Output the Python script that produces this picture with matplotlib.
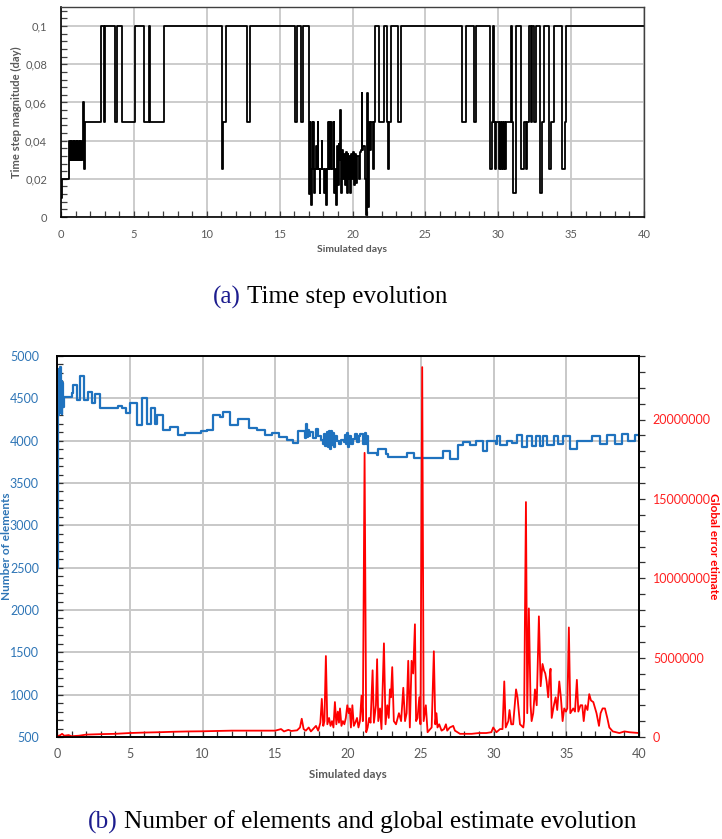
import matplotlib
matplotlib.use('Agg')
import matplotlib.pyplot as plt
from matplotlib.ticker import MultipleLocator, FuncFormatter

# ---------------- data ----------------
# (a) time step magnitude: change points (day, value)
ts_days = [0.0, 0.05, 0.55, 0.62, 0.68, 0.72, 0.78, 0.82, 0.88, 0.92, 0.98, 1.02, 1.08, 1.12,
           1.18, 1.22, 1.28, 1.32, 1.38, 1.42, 1.48, 1.52, 1.58, 1.64,
           2.72, 2.95, 3.03, 3.72, 3.82, 4.2, 5.05, 5.7, 6.02, 6.12, 7.05,
           11.05, 11.12, 11.3, 12.75, 12.98, 16.05, 16.2, 16.5, 16.6,
           17.0, 17.06, 17.1, 17.14, 17.2, 17.26, 17.32, 17.36, 17.42, 17.5, 17.55, 17.62, 17.66,
           17.75, 17.8, 17.88, 17.93, 18.02, 18.08, 18.15, 18.22, 18.3, 18.36, 18.4, 18.48, 18.55,
           18.62, 18.7, 18.75, 18.8, 18.86, 18.92, 18.98, 19.04, 19.1, 19.14, 19.18, 19.24, 19.3,
           19.36, 19.42, 19.48, 19.54, 19.6, 19.66, 19.72, 19.78, 19.84, 19.9, 19.96, 20.02, 20.1,
           20.18, 20.26, 20.34, 20.42, 20.5, 20.58, 20.62, 20.68, 20.75, 20.85, 20.95, 21.0, 21.06,
           21.12, 21.2, 21.28, 21.4, 21.46, 21.55,
           21.85, 22.18, 22.34, 22.42, 22.48, 22.64, 23.15, 23.33,
           27.53, 27.78, 28.36, 28.5, 29.45, 29.56, 29.62, 29.72, 29.78, 29.85, 30.05, 30.12, 30.2,
           30.28, 30.35, 30.42, 30.48, 30.55, 30.86, 30.97, 31.04, 31.22, 31.55, 31.8, 31.87, 31.95,
           32.12, 32.22, 32.3, 32.42, 32.56, 32.88, 33.02, 33.12, 33.45, 33.6, 33.8, 34.38, 34.58,
           34.66, 40.0]
ts_vals = [0.01, 0.02, 0.04, 0.03, 0.04, 0.03, 0.04, 0.03, 0.04, 0.03, 0.04, 0.03, 0.04, 0.03,
           0.04, 0.03, 0.04, 0.03, 0.04, 0.03, 0.04, 0.06, 0.025, 0.05,
           0.1, 0.05, 0.1, 0.05, 0.1, 0.05, 0.1, 0.05, 0.1, 0.05, 0.1,
           0.025, 0.05, 0.1, 0.05, 0.1, 0.05, 0.1, 0.05, 0.1,
           0.012, 0.05, 0.025, 0.0065, 0.05, 0.025, 0.05, 0.0125, 0.025, 0.037, 0.025, 0.05, 0.025,
           0.0125, 0.025, 0.04, 0.025, 0.0125, 0.025, 0.0065, 0.025, 0.05, 0.025, 0.05, 0.025, 0.05,
           0.025, 0.05, 0.0125, 0.025, 0.0065, 0.037, 0.017, 0.038, 0.03, 0.056, 0.025, 0.0125, 0.035,
           0.02, 0.033, 0.017, 0.034, 0.0125, 0.033, 0.02, 0.032, 0.0125, 0.033, 0.02, 0.034, 0.017,
           0.033, 0.018, 0.032, 0.02, 0.034, 0.035, 0.065, 0.035, 0.037, 0.02, 0.001, 0.065, 0.005,
           0.05, 0.035, 0.05, 0.025, 0.05, 0.1,
           0.05, 0.1, 0.05, 0.025, 0.05, 0.1, 0.05, 0.1,
           0.05, 0.1, 0.05, 0.1, 0.025, 0.05, 0.1, 0.05, 0.025, 0.05, 0.025, 0.05, 0.025,
           0.05, 0.025, 0.05, 0.025, 0.05, 0.1, 0.05, 0.0125, 0.1, 0.025, 0.05, 0.025, 0.05,
           0.1, 0.05, 0.1, 0.05, 0.1, 0.0125, 0.05, 0.1, 0.025, 0.05, 0.1, 0.025, 0.05,
           0.1, 0.1]

# (b) number of elements: change points (day, count)
elem_days = [0.0, 0.03, 0.06, 0.09, 0.12, 0.16, 0.2, 0.25, 0.29, 0.33, 0.37, 0.41, 0.46,
             1.01, 1.12, 1.35, 1.6, 1.86, 2.12, 2.38, 2.62, 2.95, 4.2, 4.45, 4.72, 5.0, 5.5,
             5.87, 6.18, 6.45, 6.72, 6.88, 7.3, 7.76, 8.3, 8.78, 9.9, 10.28, 10.73, 11.2, 11.43,
             11.92, 12.45, 13.2, 13.72, 14.28, 14.75, 15.25, 15.78, 16.2, 16.58,
             16.97, 17.05, 17.1, 17.15, 17.22, 17.35, 17.42, 17.62, 17.8, 17.95, 18.15, 18.3,
             18.38, 18.45, 18.55, 18.62, 18.7, 18.76, 18.82, 18.88, 18.95, 19.02, 19.1, 19.22,
             19.4, 19.55, 19.7, 19.78, 19.85, 19.92, 19.98, 20.05, 20.2, 20.35, 20.5, 20.62,
             20.75, 20.85, 21.05, 21.16, 21.22, 21.28, 21.4, 21.97, 22.08, 22.6, 22.77, 24.03,
             24.53, 25.63, 26.5, 27.0, 27.53, 27.92, 28.38, 28.8, 29.25, 29.53, 30.17, 30.26,
             30.45, 30.9, 31.24, 31.63, 31.93, 32.28, 32.62, 32.92, 33.19, 33.37, 33.65, 34.15,
             34.45, 34.75, 35.25, 35.71, 36.74, 37.31, 37.77, 38.35, 38.8, 39.26, 39.72, 40.0]
elem_vals = [800, 2500, 4650, 4300, 4850, 4400, 4870, 4330, 4700, 4320, 4680, 4400, 4520,
             4560, 4660, 4480, 4760, 4480, 4570, 4450, 4555, 4380, 4410, 4380, 4330, 4450, 4180,
             4500, 4200, 4390, 4200, 4300, 4130, 4160, 4070, 4090, 4110, 4130, 4300, 4280, 4340,
             4190, 4260, 4150, 4130, 4070, 4090, 4040, 4010, 3970, 4120,
             4120, 4030, 4200, 4040, 4130, 4050, 4100, 4030, 4140, 4050, 4010, 3960,
             4080, 3940, 4100, 3920, 4110, 3900, 4110, 3950, 4090, 3930, 4060, 4000,
             3960, 4010, 3990, 4070, 3960, 4090, 3920, 4050, 3960, 4020, 4080, 3990,
             4060, 4080, 3960, 4090, 3960, 4060, 3860, 3830, 3900, 3840, 3810, 3860,
             3800, 3790, 3880, 3780, 3950, 3980, 3950, 4000, 3880, 4000, 3960, 4050,
             3950, 4000, 3970, 4070, 3930, 4050, 3940, 4060, 3940, 4050, 3950, 4050,
             3960, 4050, 3900, 4000, 4060, 3960, 4070, 3960, 4080, 4000, 4070, 4070]

# (b) global error estimate: points (day, value)
err_days = [0.0, 0.2, 0.35, 0.5, 0.8, 1.0, 1.5, 2.0, 3.0, 4.0, 5.0, 6.0, 7.0, 8.0, 9.0, 10.0,
            11.0, 12.0, 13.0, 14.0, 15.0, 15.4, 15.6, 15.9, 16.1, 16.3, 16.5, 16.7, 16.82, 16.95,
            17.1, 17.3, 17.45, 17.6, 17.8, 17.95, 18.1, 18.2, 18.3, 18.38, 18.48, 18.58, 18.7,
            18.8, 18.9, 19.0, 19.1, 19.2, 19.3, 19.38, 19.45, 19.55, 19.65, 19.75, 19.85, 19.95,
            20.05, 20.12, 20.2, 20.3, 20.4, 20.5, 20.62, 20.72, 20.82, 20.93, 21.02, 21.14, 21.25,
            21.35, 21.45, 21.55, 21.69, 21.78, 21.92, 22.0, 22.08, 22.2, 22.3, 22.47, 22.58, 22.7,
            22.8, 22.88, 22.95, 23.04, 23.15, 23.3, 23.5, 23.65, 23.8, 23.92, 24.03, 24.14, 24.25,
            24.37, 24.48, 24.6, 24.68, 24.78, 24.9, 24.98, 25.1, 25.2, 25.35, 25.47, 25.65, 25.75,
            25.9, 26.0, 26.08, 26.15, 26.27, 26.43, 26.6, 26.73, 26.82, 27.0, 27.23, 27.35, 27.7,
            28.5, 29.0, 29.5, 29.85, 29.98, 30.2, 30.45, 30.62, 30.74, 30.84, 31.02, 31.1, 31.22,
            31.35, 31.55, 31.65, 31.82, 32.05, 32.1, 32.23, 32.32, 32.43, 32.55, 32.62, 32.73,
            32.85, 32.97, 33.12, 33.24, 33.37, 33.47, 33.56, 33.65, 33.76, 33.83, 33.92, 34.0,
            34.15, 34.27, 34.38, 34.52, 34.63, 34.75, 34.86, 34.98, 35.07, 35.18, 35.28, 35.48,
            35.6, 35.73, 35.83, 35.98, 36.1, 36.2, 36.32, 36.46, 36.58, 36.7, 36.86, 37.08, 37.25,
            37.36, 37.5, 37.66, 37.82, 37.96, 38.2, 38.65, 39.0, 39.35, 40.0]
err_vals_m = [0.05, 0.1, 0.2, 0.08, 0.12, 0.05, 0.08, 0.15, 0.18, 0.2, 0.25, 0.28, 0.3, 0.33,
              0.35, 0.36, 0.38, 0.4, 0.4, 0.4, 0.4, 0.5, 0.35, 0.45, 0.38, 0.4, 0.42, 0.6, 1.15,
              0.5, 0.4, 0.6, 0.35, 0.5, 0.7, 0.4, 0.9, 2.4, 0.7, 1.0, 5.1, 0.8, 1.2, 0.7, 1.0, 0.6,
              2.2, 0.8, 1.6, 0.9, 1.8, 0.7, 1.0, 0.8, 1.2, 2.0, 1.5, 1.8, 0.6, 2.0, 0.7, 0.9, 1.2,
              0.6, 1.0, 2.6, 1.0, 17.9, 0.3, 0.6, 1.2, 0.9, 4.2, 0.9, 2.0, 4.9, 1.0, 1.8, 0.5, 5.9,
              0.8, 2.0, 1.2, 3.0, 2.5, 4.4, 1.0, 0.8, 1.5, 1.0, 3.1, 1.0, 1.5, 4.8, 0.6, 4.8, 4.0,
              7.1, 1.0, 1.2, 2.5, 0.8, 23.3, 1.0, 2.0, 0.3, 0.5, 0.6, 5.4, 0.8, 1.5, 0.6, 0.8, 0.4,
              0.5, 0.8, 0.4, 0.6, 0.7, 0.4, 0.2, 0.2, 0.25, 0.25, 0.3, 0.6, 0.3, 0.5, 0.5, 3.5, 0.6,
              1.0, 1.7, 0.8, 0.8, 3.0, 2.5, 0.8, 0.6, 1.0, 14.8, 1.5, 8.1, 2.0, 1.0, 1.5, 3.0, 2.0,
              7.6, 3.2, 4.6, 4.2, 4.0, 3.5, 2.5, 3.5, 4.3, 1.2, 2.0, 2.5, 1.7, 3.5, 2.5, 1.0, 1.8,
              1.6, 1.8, 6.9, 1.5, 1.8, 1.6, 3.6, 1.6, 2.0, 2.0, 1.0, 2.0, 1.7, 2.7, 2.3, 2.2, 1.5,
              0.7, 1.5, 1.8, 1.8, 1.2, 0.6, 0.35, 0.25, 0.35, 0.3, 0.25]
err_vals = [v * 1e6 for v in err_vals_m]

captions = [("(a)", "Time step evolution"),
            ("(b)", "Number of elements and global estimate evolution")]

# ---------------- figure ----------------
W, H = 722, 839
fig = plt.figure(figsize=(W / 100, H / 100), dpi=100)
SANS = 'Lato'
GRAY = '#595959'
GRID = '#c8c8c8'
BLUE = '#1f72be'
BLUE_TXT = '#2e75b6'


def fx(px):
    return px / W


def fy(py):
    return 1 - py / H


def box(l, t, r, b):
    return [fx(l), fy(b), fx(r) - fx(l), fy(t) - fy(b)]


# ---- (a) ----
ax1 = fig.add_axes(box(61, 7, 644, 217))
ax1.plot(ts_days, ts_vals, drawstyle='steps-post', color='black', lw=1.3)
ax1.set_xlim(0, 40)
ax1.set_ylim(0, 0.11)
ax1.xaxis.set_major_locator(MultipleLocator(5))
ax1.xaxis.set_minor_locator(MultipleLocator(1))
ax1.yaxis.set_major_locator(MultipleLocator(0.02))
ax1.yaxis.set_minor_locator(MultipleLocator(0.004))


def comma_fmt(v, _):
    if abs(v) < 1e-12:
        return '0'
    return ('%.2f' % v).rstrip('0').replace('.', ',')


ax1.yaxis.set_major_formatter(FuncFormatter(comma_fmt))
ax1.grid(True, which='major', color=GRID, lw=1.3)
ax1.set_axisbelow(True)
ax1.tick_params(which='both', direction='in', length=4, width=0.9, color='#404040',
                labelcolor=GRAY, labelsize=8)
ax1.tick_params(axis='x', which='both', pad=9)
ax1.tick_params(axis='y', which='both', pad=10)
for lab in ax1.get_xticklabels() + ax1.get_yticklabels():
    lab.set_family(SANS)
for s in ['left', 'bottom']:
    ax1.spines[s].set_color('black')
    ax1.spines[s].set_linewidth(1.2)
for s in ['top', 'right']:
    ax1.spines[s].set_color('#404040')
    ax1.spines[s].set_linewidth(1.0)
fig.text(fx(352), fy(250), 'Simulated days', ha='center', va='center', family=SANS,
         fontweight='bold', fontsize=7.5, color=GRAY)
fig.text(fx(16), fy(112), 'Time step magnitude (day)', ha='center', va='center', rotation=90,
         family=SANS, fontweight='bold', fontsize=8, color=GRAY)

# ---- (b) ----
ax2 = fig.add_axes(box(57, 356, 639, 737))
ax2.plot(elem_days, elem_vals, drawstyle='steps-post', color=BLUE, lw=1.6)
ax2.set_xlim(0, 40)
ax2.set_ylim(500, 5000)
ax2.xaxis.set_major_locator(MultipleLocator(5))
ax2.xaxis.set_minor_locator(MultipleLocator(1))
ax2.yaxis.set_major_locator(MultipleLocator(500))
ax2.yaxis.set_minor_locator(MultipleLocator(100))
ax2.grid(True, which='major', color=GRID, lw=1.4)
ax2.set_axisbelow(True)
ax2.tick_params(which='both', direction='in', length=4, width=0.9, color='#303030')
ax2.tick_params(axis='x', which='both', labelcolor=GRAY, labelsize=9, pad=8)
ax2.tick_params(axis='y', which='both', labelcolor=BLUE_TXT, labelsize=9, pad=13)
for lab in ax2.get_xticklabels() + ax2.get_yticklabels():
    lab.set_family(SANS)

ax3 = ax2.twinx()
ax3.plot(err_days, err_vals, color='#ff0000', lw=1.3)
ax3.set_ylim(0, 24e6)
ax3.yaxis.set_major_locator(MultipleLocator(5e6))
ax3.yaxis.set_minor_locator(MultipleLocator(1e6))
ax3.yaxis.set_major_formatter(FuncFormatter(lambda v, _: '%d' % round(v)))
ax3.tick_params(which='both', direction='out', length=4, width=0.9, color='#303030',
                labelcolor='#ff2020', labelsize=9, pad=6)
for lab in ax3.get_yticklabels():
    lab.set_family(SANS)
for a in (ax2, ax3):
    for s in a.spines.values():
        s.set_color('black')
        s.set_linewidth(1.2)

fig.text(fx(348), fy(775), 'Simulated days', ha='center', va='center', family=SANS,
         fontweight='bold', fontsize=8.3, color=GRAY)
fig.text(fx(7), fy(546), 'Number of elements', ha='center', va='center', rotation=90,
         family=SANS, fontweight='bold', fontsize=8.5, color=BLUE_TXT)
fig.text(fx(713), fy(546), 'Global error etimate', ha='center', va='center', rotation=270,
         family=SANS, fontweight='bold', fontsize=8.5, color='#ff0000')

# ---- captions (serif, prefix in blue) ----
renderer = fig.canvas.get_renderer()


def caption(prefix, rest, x0, x1, yc):
    base = 16.0
    gap = 0.25
    t1 = fig.text(0, 0, prefix, fontsize=base, family='Liberation Serif')
    t2 = fig.text(0, 0, rest, fontsize=base, family='Liberation Serif')
    w = (t1.get_window_extent(renderer).width + t2.get_window_extent(renderer).width
         + gap * base * 100 / 72)
    t1.remove()
    t2.remove()
    size = base * (x1 - x0) / w
    a = fig.text(fx(x0), fy(yc), prefix, fontsize=size, family='Liberation Serif',
                 color='#1c1c8e', ha='left', va='center')
    wa = a.get_window_extent(renderer).width
    fig.text(fx(x0 + wa + gap * size * 100 / 72), fy(yc), rest, fontsize=size,
             family='Liberation Serif', color='black', ha='left', va='center')


caption(captions[0][0], captions[0][1], 213, 447, 297)
caption(captions[1][0], captions[1][1], 88, 636, 822)

fig.savefig('out.png', dpi=100)
